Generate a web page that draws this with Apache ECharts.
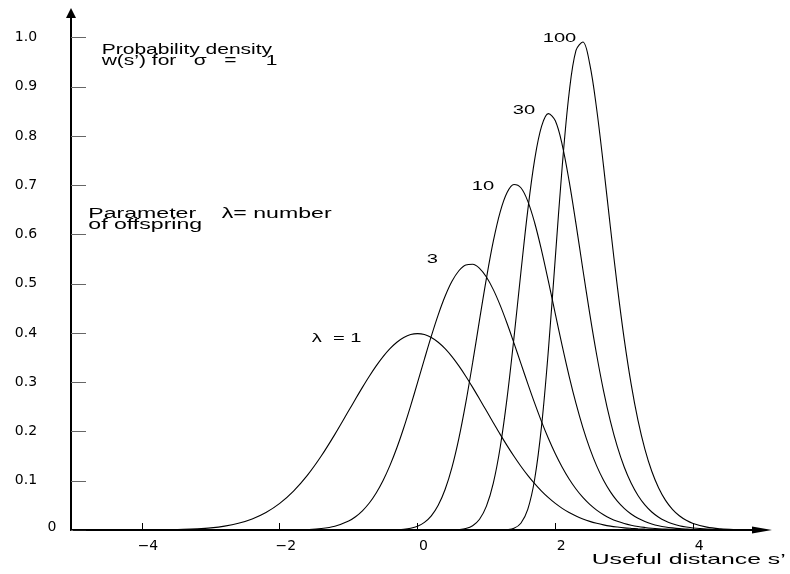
<!DOCTYPE html>
<html>
<head>
<meta charset="utf-8">
<script src="https://cdn.jsdelivr.net/npm/echarts@6/dist/echarts.min.js"></script>
<style>
html,body{margin:0;padding:0;background:#ffffff;}
#chart{width:790px;height:574px;}
</style>
</head>
<body>
<div id="chart"></div>
<script>
// Useful distance s' (x positions of the sampled points)
const xs = [-5, -4.5, -4, -3.8, -3.6, -3.4, -3.2, -3, -2.8, -2.6, -2.4, -2.2, -2, -1.8, -1.6, -1.4, -1.2,
  -1, -0.9, -0.8, -0.7, -0.6, -0.5, -0.4, -0.3, -0.2, -0.1,
  0, 0.1, 0.2, 0.3, 0.4, 0.5, 0.6, 0.7, 0.8, 0.9,
  1, 1.1, 1.2, 1.3, 1.4, 1.5, 1.6, 1.7, 1.8, 1.9,
  2, 2.1, 2.2, 2.3, 2.4, 2.5, 2.6, 2.7, 2.8, 2.9,
  3, 3.1, 3.2, 3.3, 3.4, 3.5, 3.6, 3.7, 3.8, 3.9,
  4, 4.2, 4.4, 4.6, 4.8, 5];

// Probability density w(s'), one array per lambda
const w1 = [0, 0, 0.0001, 0.0003, 0.0006, 0.0012, 0.0024, 0.0044, 0.0079, 0.0136, 0.0224, 0.0355, 0.0540, 0.0790, 0.1109, 0.1497, 0.1942,
  0.2420, 0.2661, 0.2897, 0.3123, 0.3332, 0.3521, 0.3683, 0.3814, 0.3910, 0.3970,
  0.3989, 0.3970, 0.3910, 0.3814, 0.3683, 0.3521, 0.3332, 0.3123, 0.2897, 0.2661,
  0.2420, 0.2179, 0.1942, 0.1714, 0.1497, 0.1295, 0.1109, 0.0941, 0.0790, 0.0656,
  0.0540, 0.0440, 0.0355, 0.0283, 0.0224, 0.0175, 0.0136, 0.0104, 0.0079, 0.0060,
  0.0044, 0.0033, 0.0024, 0.0017, 0.0012, 0.0009, 0.0006, 0.0004, 0.0003, 0.0002,
  0.0001, 0.0001, 0, 0, 0, 0];

const w3 = [0, 0, 0, 0, 0, 0, 0, 0, 0, 0, 0, 0, 0.0001, 0.0003, 0.0010, 0.0029, 0.0077,
  0.0183, 0.0270, 0.0390, 0.0548, 0.0752, 0.1005, 0.1312, 0.1670, 0.2077, 0.2522,
  0.2992, 0.3470, 0.3936, 0.4369, 0.4746, 0.5050, 0.5265, 0.5383, 0.5398, 0.5315,
  0.5138, 0.4882, 0.4562, 0.4194, 0.3796, 0.3384, 0.2973, 0.2576, 0.2201, 0.1857,
  0.1547, 0.1273, 0.1035, 0.0832, 0.0661, 0.0519, 0.0404, 0.0311, 0.0236, 0.0178,
  0.0133, 0.0098, 0.0071, 0.0052, 0.0037, 0.0026, 0.0018, 0.0013, 0.0009, 0.0006,
  0.0004, 0.0002, 0.0001, 0, 0, 0];

const w10 = [0, 0, 0, 0, 0, 0, 0, 0, 0, 0, 0, 0, 0, 0, 0, 0, 0,
  0, 0, 0, 0, 0, 0.0001, 0.0003, 0.0007, 0.0016, 0.0037,
  0.0078, 0.0155, 0.0287, 0.0501, 0.0822, 0.1272, 0.1861, 0.2581, 0.3399, 0.4266,
  0.5111, 0.5865, 0.6462, 0.6855, 0.7017, 0.6951, 0.6679, 0.6240, 0.5680, 0.5048,
  0.4389, 0.3739, 0.3127, 0.2571, 0.2079, 0.1657, 0.1302, 0.1010, 0.0774, 0.0585,
  0.0438, 0.0324, 0.0237, 0.0172, 0.0123, 0.0087, 0.0061, 0.0043, 0.0029, 0.0020,
  0.0013, 0.0006, 0.0003, 0.0001, 0, 0];

const w30 = [0, 0, 0, 0, 0, 0, 0, 0, 0, 0, 0, 0, 0, 0, 0, 0, 0,
  0, 0, 0, 0, 0, 0, 0, 0, 0, 0,
  0, 0, 0, 0, 0.0001, 0.0002, 0.0009, 0.0030, 0.0087, 0.0219,
  0.0484, 0.0953, 0.1681, 0.2684, 0.3907, 0.5231, 0.6491, 0.7521, 0.8197, 0.8456,
  0.8310, 0.7823, 0.7090, 0.6217, 0.5291, 0.4389, 0.3559, 0.2827, 0.2205, 0.1692,
  0.1279, 0.0953, 0.0701, 0.0510, 0.0366, 0.0260, 0.0183, 0.0127, 0.0087, 0.0060,
  0.0040, 0.0018, 0.0008, 0.0003, 0.0001, 0];

const w100 = [0, 0, 0, 0, 0, 0, 0, 0, 0, 0, 0, 0, 0, 0, 0, 0, 0,
  0, 0, 0, 0, 0, 0, 0, 0, 0, 0,
  0, 0, 0, 0, 0, 0, 0, 0, 0, 0,
  0, 0, 0.0001, 0.0007, 0.0036, 0.0138, 0.0419, 0.1031, 0.2109, 0.3666,
  0.5532, 0.7383, 0.8870, 0.9742, 0.9912, 0.9461, 0.8551, 0.7389, 0.6144, 0.4948,
  0.3877, 0.2968, 0.2227, 0.1643, 0.1192, 0.0853, 0.0602, 0.0420, 0.0290, 0.0198,
  0.0134, 0.0059, 0.0025, 0.0010, 0.0004, 0.0002];

const lambdas = ['1', '3', '10', '30', '100'];
const xTickValues = [-4, -2, 0, 2, 4];
const yTickValues = [0, 0.1, 0.2, 0.3, 0.4, 0.5, 0.6, 0.7, 0.8, 0.9, 1.0];

const curves = [w1, w3, w10, w30, w100];

const chart = echarts.init(document.getElementById('chart'), null, {renderer: 'canvas'});

const TXT = 'Liberation Sans, Arial, Helvetica, sans-serif';
function label(text, x, y, size, sx) {
  return {
    type: 'text', x: x, y: y, scaleX: sx, silent: true, z: 10,
    style: {
      text: text, fill: '#000', fontSize: size, fontFamily: TXT,
      align: 'left', verticalAlign: 'middle',
      textAlign: 'left', textVerticalAlign: 'middle'
    }
  };
}

const option = {
  animation: false,
  backgroundColor: '#ffffff',
  grid: {left: 71, right: 28, top: 13, bottom: 44, containLabel: false, outerBoundsMode: 'none'},
  xAxis: {
    type: 'value', min: -5.03, max: 5,
    axisLine: {show: true, onZero: false, symbol: ['none', 'triangle'], symbolSize: [7, 20],
      lineStyle: {color: '#000', width: 2}},
    axisTick: {show: true, inside: true, length: 7, customValues: xTickValues,
      lineStyle: {color: '#000', width: 1}},
    axisLabel: {show: true, customValues: xTickValues, margin: 9, color: '#000',
      fontFamily: 'DejaVu Sans', fontSize: 14, padding: [0, 0, 0, 12],
      formatter: function (v) { return v < 0 ? '\u2212' + (-v) : String(v); }},
    splitLine: {show: false}
  },
  yAxis: {
    type: 'value', min: 0, max: 1.05,
    axisLine: {show: true, onZero: false, symbol: ['none', 'triangle'], symbolSize: [10, 10],
      lineStyle: {color: '#000', width: 2}},
    axisTick: {show: true, inside: true, length: 15, customValues: yTickValues,
      lineStyle: {color: '#666', width: 1}},
    axisLabel: {show: true, customValues: yTickValues, margin: 45, align: 'center', color: '#000',
      fontFamily: 'DejaVu Sans', fontSize: 14,
      formatter: function (v) { return v === 0 ? '{z|0}' : v.toFixed(1); },
      rich: {z: {fontFamily: 'DejaVu Sans', fontSize: 14, color: '#000', padding: [0, 0, 6, 52]}}},
    splitLine: {show: false}
  },
  series: curves.map(function (w, k) {
    return {
      type: 'line', name: '\u03bb = ' + lambdas[k],
      data: xs.map(function (x, i) { return [x, w[i]]; }),
      symbol: 'none', showSymbol: false, smooth: 0.35, silent: true,
      lineStyle: {color: '#000', width: 1.1}, z: 3
    };
  }),
  graphic: [
    label('Probability density', 101.7, 50.5, 14, 1.5),
    label('w(s\u2019) for   \u03c3   =     1', 101.7, 61, 14, 1.5),
    label('Parameter    \u03bb= number', 88.3, 213.7, 14, 1.65),
    label('of offspring', 88.3, 224.7, 14, 1.65),
    label('\u03bb  = 1', 311.7, 338.3, 13, 1.55),
    label('3', 426.7, 259.3, 13, 1.55),
    label('10', 471.7, 186.7, 13, 1.55),
    label('30', 512.7, 110.7, 13, 1.55),
    label('100', 542.7, 38.3, 13, 1.55),
    label('Useful distance s\u2019', 591.7, 559.7, 15, 1.65)
  ]
};
chart.setOption(option);
</script>
</body>
</html>
